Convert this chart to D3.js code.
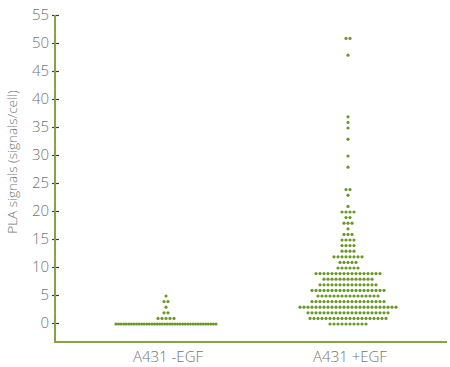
<!DOCTYPE html>
<html>
<head>
<meta charset="utf-8">
<script src="https://cdn.jsdelivr.net/npm/d3@7"></script>
<style>
  html, body { margin: 0; padding: 0; background: #ffffff; }
  svg { display: block; }
  text { font-family: "Open Sans", "Liberation Sans", Arial, sans-serif; font-weight: 300; }
</style>
</head>
<body>
<svg id="chart" width="450" height="367"></svg>
<script>
// ---- data ----
const categories = ["A431 -EGF", "A431 +EGF"];
// PLA signals per cell value -> number of cells at that value
const minusEGFValues = [0, 1, 2, 3, 4, 5];
const minusEGFCounts = [40, 5, 2, 1, 2, 1];
const plusEGFValues = [0, 1, 2, 3, 4, 5, 6, 7, 8, 9, 10, 11, 12, 13, 14, 15, 16, 17, 18, 19, 20, 21, 23, 24, 28, 30, 33, 35, 36, 37, 48, 51];
const plusEGFCounts = [10, 20, 21, 25, 19, 16, 19, 15, 13, 17, 6, 5, 8, 4, 4, 4, 3, 1, 3, 2, 4, 1, 1, 2, 1, 1, 1, 1, 1, 1, 1, 2];
const yTicks = [0, 5, 10, 15, 20, 25, 30, 35, 40, 45, 50, 55];
const yLabel = "PLA signals (signals/cell)";

// ---- layout ----
const svg = d3.select("#chart");
const axisX = 55, axisBottom = 342, axisTop = 15, axisRight = 447;
const y = d3.scaleLinear().domain([0, 55]).range([323, 15]);
const x = d3.scalePoint().domain(categories).range([166, 348]);

const dotColor = "#6a982a";
const axisColor = "#86a245";
const textColor = "#737373";
const dotStep = 4, maxRow = 100, r = 1.6;

const groups = [
  { cat: categories[0], values: minusEGFValues, counts: minusEGFCounts },
  { cat: categories[1], values: plusEGFValues, counts: plusEGFCounts }
];

const dots = [];
groups.forEach(g => {
  g.values.forEach((v, k) => {
    const n = g.counts[k];
    const step = n > 1 ? Math.min(dotStep, maxRow / (n - 1)) : dotStep;
    for (let i = 0; i < n; i++) {
      dots.push({ cat: g.cat, value: v, off: (i - (n - 1) / 2) * step });
    }
  });
});

svg.append("g").selectAll("circle")
  .data(dots)
  .join("circle")
  .attr("cx", d => x(d.cat) + d.off)
  .attr("cy", d => y(d.value) + 1)
  .attr("r", r)
  .attr("fill", dotColor);

// y axis
const yAxis = d3.axisLeft(y).tickValues(yTicks).tickSize(4).tickPadding(6);
const gy = svg.append("g").attr("transform", `translate(${axisX},0)`).call(yAxis);
gy.select(".domain").remove();
gy.selectAll(".tick line").attr("x1", -3).attr("x2", 4).attr("stroke", "#3a3a2a").attr("stroke-width", 1.2);
gy.selectAll(".tick text").attr("font-size", 15).attr("fill", textColor).attr("x", -6)
  .style("font-family", '"Open Sans", "Liberation Sans", Arial, sans-serif').style("font-weight", 300);

// axis lines
svg.append("line").attr("x1", axisX).attr("x2", axisX).attr("y1", axisTop).attr("y2", axisBottom + 1)
  .attr("stroke", axisColor).attr("stroke-width", 2);
svg.append("line").attr("x1", axisX - 1).attr("x2", axisRight).attr("y1", axisBottom).attr("y2", axisBottom)
  .attr("stroke", axisColor).attr("stroke-width", 2);

// x category labels
svg.append("g").selectAll("text")
  .data(categories)
  .join("text")
  .attr("x", d => x(d) + 2)
  .attr("y", 362)
  .attr("text-anchor", "middle")
  .attr("font-size", 15)
  .attr("fill", textColor)
  .text(d => d);

// y label
svg.append("text")
  .attr("transform", `translate(17,162) rotate(-90)`)
  .attr("text-anchor", "middle")
  .attr("font-size", 13.5)
  .attr("fill", textColor)
  .text(yLabel);
</script>
</body>
</html>
